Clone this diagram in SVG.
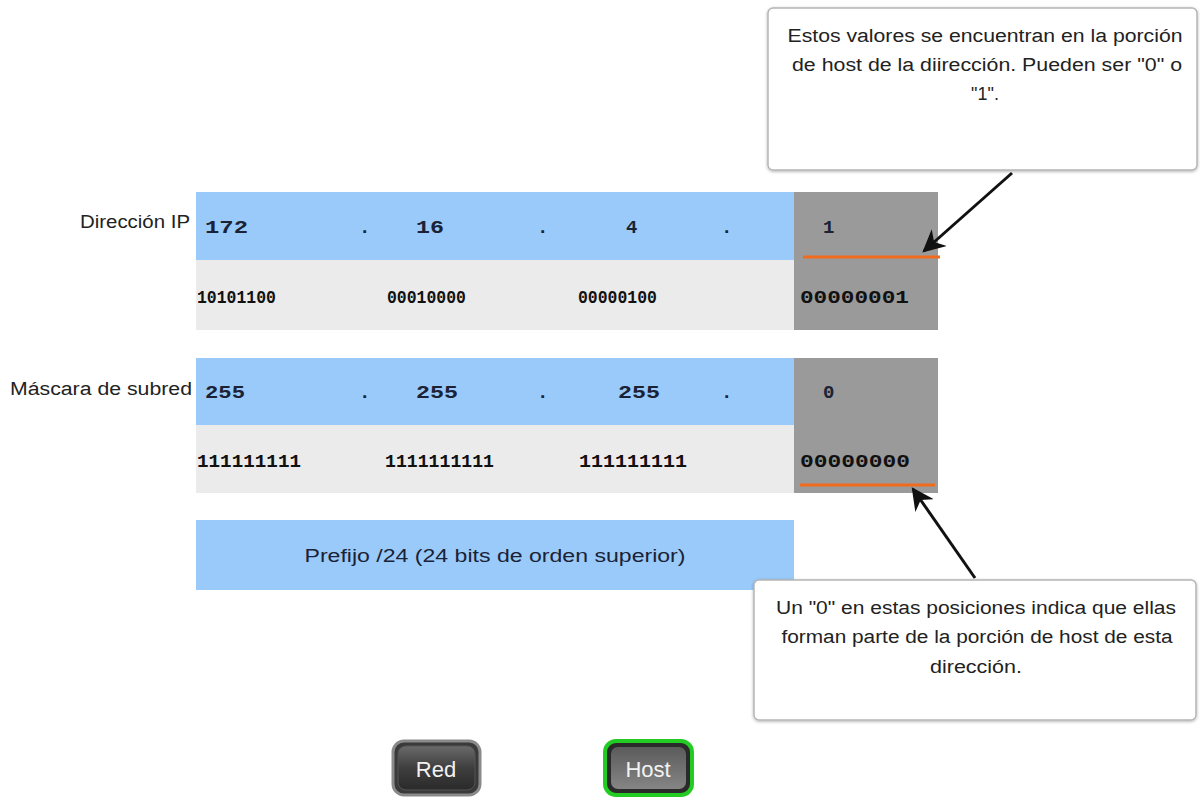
<svg xmlns="http://www.w3.org/2000/svg" width="1200" height="801" viewBox="0 0 1200 801">
<defs>
<style>
.lbl{font-family:"Liberation Sans",Arial,sans-serif;font-size:18px;fill:#222}
.num{font-family:"Liberation Mono","Courier New",monospace;font-size:19px;font-weight:bold;fill:#1b2236}
.bin{font-family:"Liberation Mono","Courier New",monospace;font-size:18px;font-weight:bold;fill:#111}
.note{font-family:"Liberation Sans",Arial,sans-serif;font-size:18px;fill:#222;text-anchor:middle}
.blue{fill:#99caf9}
.light{fill:#ebebeb}
.gray{fill:#9a9a9a}
.orange{stroke:#f26b1d;stroke-width:3}
.callout{fill:#fff;stroke:#b5b5b5;stroke-width:1.5}
.arrow{stroke:#111;stroke-width:3;fill:none}
.btn{font-family:"Liberation Sans",Arial,sans-serif;font-size:22px;fill:#f2f2f2;text-anchor:middle}
</style>
<marker id="ah" viewBox="0 0 10 10" refX="9" refY="5" markerWidth="7.5" markerHeight="7.5" orient="auto" markerUnits="strokeWidth">
<path d="M0,0 L10,5 L0,10 L3,5 z" fill="#111"/>
</marker>
<filter id="sh" x="-5%" y="-5%" width="110%" height="115%">
<feDropShadow dx="0" dy="1" stdDeviation="1.5" flood-color="#000" flood-opacity="0.3"/>
</filter>
<linearGradient id="gRed" x1="0" y1="0" x2="0" y2="1">
<stop offset="0" stop-color="#6a6a6a"/><stop offset="0.5" stop-color="#3e3e3e"/><stop offset="1" stop-color="#2a2a2a"/>
</linearGradient>
<linearGradient id="gHost" x1="0" y1="0" x2="0" y2="1">
<stop offset="0" stop-color="#5b5b5b"/><stop offset="1" stop-color="#858585"/>
</linearGradient>
</defs>
<rect width="1200" height="801" fill="#fff"/>

<g id="ip-address">
<text class="lbl" x="190" y="228" text-anchor="end" textLength="110" lengthAdjust="spacingAndGlyphs">Dirección IP</text>
<rect class="blue" x="196" y="192" width="598" height="68"/>
<rect class="light" x="196" y="260" width="598" height="70"/>
<rect class="gray" x="794" y="192" width="144" height="138"/>
<line class="orange" x1="803" y1="257" x2="940" y2="257"/>
<text class="num" x="205" y="233" textLength="43" lengthAdjust="spacingAndGlyphs">172</text>
<text class="num" x="359" y="233">.</text>
<text class="num" x="416" y="233" textLength="28" lengthAdjust="spacingAndGlyphs">16</text>
<text class="num" x="537" y="233">.</text>
<text class="num" x="626" y="233">4</text>
<text class="num" x="721" y="233">.</text>
<text class="num" x="823" y="233">1</text>
<text class="bin" x="197" y="303" textLength="79" lengthAdjust="spacingAndGlyphs">10101100</text>
<text class="bin" x="387" y="303" textLength="79" lengthAdjust="spacingAndGlyphs">00010000</text>
<text class="bin" x="578" y="303" textLength="79" lengthAdjust="spacingAndGlyphs">00000100</text>
<text class="bin" x="800" y="303" textLength="109" lengthAdjust="spacingAndGlyphs">00000001</text>
</g>

<g id="subnet-mask">
<text class="lbl" x="192" y="395" text-anchor="end" textLength="182" lengthAdjust="spacingAndGlyphs">Máscara de subred</text>
<rect class="blue" x="196" y="358" width="598" height="67"/>
<rect class="light" x="196" y="425" width="598" height="68"/>
<rect class="gray" x="794" y="358" width="144" height="135"/>
<line class="orange" x1="800" y1="485" x2="935" y2="485"/>
<text class="num" x="205" y="398" textLength="40" lengthAdjust="spacingAndGlyphs">255</text>
<text class="num" x="359" y="398">.</text>
<text class="num" x="416" y="398" textLength="42" lengthAdjust="spacingAndGlyphs">255</text>
<text class="num" x="537" y="398">.</text>
<text class="num" x="618" y="398" textLength="42" lengthAdjust="spacingAndGlyphs">255</text>
<text class="num" x="721" y="398">.</text>
<text class="num" x="823" y="398">0</text>
<text class="bin" x="197" y="467" textLength="104" lengthAdjust="spacingAndGlyphs">111111111</text>
<text class="bin" x="385" y="467" textLength="109" lengthAdjust="spacingAndGlyphs">1111111111</text>
<text class="bin" x="579" y="467" textLength="108" lengthAdjust="spacingAndGlyphs">111111111</text>
<text class="bin" x="800" y="467" textLength="110" lengthAdjust="spacingAndGlyphs">00000000</text>
</g>

<g id="prefix">
<rect class="blue" x="196" y="520" width="598" height="70"/>
<text class="lbl" x="495" y="562" text-anchor="middle" textLength="381" lengthAdjust="spacingAndGlyphs" style="fill:#1b2236">Prefijo /24 (24 bits de orden superior)</text>
</g>

<g id="callout-top">
<rect class="callout" x="768" y="8" width="429" height="162" rx="5" filter="url(#sh)"/>
<text class="note" x="985" y="42" textLength="395" lengthAdjust="spacingAndGlyphs">Estos valores se encuentran en la porción</text>
<text class="note" x="987" y="71" textLength="390" lengthAdjust="spacingAndGlyphs">de host de la diirección. Pueden ser "0" o</text>
<text class="note" x="985" y="100">"1".</text>
</g>

<g id="callout-bottom">
<rect class="callout" x="754" y="580" width="442" height="140" rx="5" filter="url(#sh)"/>
<text class="note" x="976" y="614" textLength="400" lengthAdjust="spacingAndGlyphs">Un "0" en estas posiciones indica que ellas</text>
<text class="note" x="977" y="643" textLength="391" lengthAdjust="spacingAndGlyphs">forman parte de la porción de host de esta</text>
<text class="note" x="976" y="673" textLength="92" lengthAdjust="spacingAndGlyphs">dirección.</text>
</g>

<g id="connectors">
<line class="arrow" x1="1012" y1="173" x2="924" y2="251" marker-end="url(#ah)"/>
<line class="arrow" x1="975" y1="578" x2="913" y2="489" marker-end="url(#ah)"/>
</g>

<g id="btn-red">
<rect x="393" y="741" width="87" height="54" rx="11" fill="#3a3a3a" stroke="#8a8a8a" stroke-width="3"/>
<rect x="398" y="746" width="77" height="44" rx="8" fill="url(#gRed)" stroke="#555" stroke-width="1"/>
<text class="btn" x="436" y="777">Red</text>
</g>

<g id="btn-host">
<rect x="605" y="741" width="87" height="54" rx="11" fill="#2a2a2a" stroke="#22cc22" stroke-width="4"/>
<rect x="611" y="747" width="75" height="42" rx="7" fill="url(#gHost)"/>
<text class="btn" x="648" y="777">Host</text>
</g>
</svg>
